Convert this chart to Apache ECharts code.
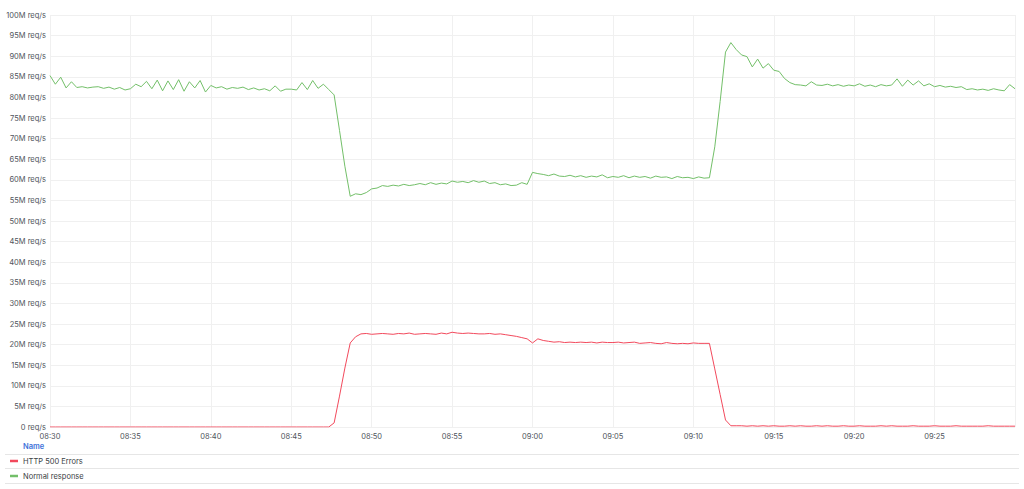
<!DOCTYPE html>
<html>
<head>
<meta charset="utf-8">
<script src="https://cdn.jsdelivr.net/npm/echarts@6/dist/echarts.min.js"></script>
<style>
  html, body { margin: 0; padding: 0; background: #fff; }
  #chart { width: 1024px; height: 489px; }
</style>
</head>
<body>
<div id="chart"></div>
<script>
(function() {
  'use strict';

  // ========== Data ==========
  // samples every 20 s from 08:30:00 to 09:30:00, values in M req/s
  var startHour = 8;
  var startMinute = 30;
  var spanMinutes = 60;
  var stepMinutes = 20 / 60;
  var seriesNames = ['HTTP 500 Errors', 'Normal response'];
  var seriesColors = ['#f2495c', '#73bf69'];

  var errors500 = [
    0, 0, 0,  0, 0, 0,  0, 0, 0,  0, 0, 0,  0, 0, 0,            // 08:30-08:34
    0, 0, 0,  0, 0, 0,  0, 0, 0,  0, 0, 0,  0, 0, 0,            // 08:35-08:39
    0, 0, 0,  0, 0, 0,  0, 0, 0,  0, 0, 0,  0, 0, 0,            // 08:40-08:44
    0, 0, 0,  0, 0, 0,  0, 0, 1.0,  7.5, 14.3, 20.4,  21.9, 22.6, 22.7,   // 08:45-08:49
    22.5, 22.6, 22.7,  22.6, 22.5, 22.7,  22.6, 22.8, 22.5,  22.6, 22.7, 22.6,  22.5, 22.8, 22.6,  // 08:50-08:54
    23.0, 22.8, 22.7,  22.8, 22.7, 22.6,  22.6, 22.7, 22.5,  22.6, 22.4, 22.2,  22.0, 21.7, 21.4,  // 08:55-08:59
    20.4, 21.4, 21.0,  20.8, 20.6, 20.7,  20.5, 20.6, 20.5,  20.6, 20.5, 20.6,  20.4, 20.6, 20.5,  // 09:00-09:04
    20.5, 20.6, 20.4,  20.5, 20.6, 20.3,  20.4, 20.5, 20.3,  20.2, 20.5, 20.3,  20.2, 20.3, 20.2,  // 09:05-09:09
    20.4, 20.3, 20.3,  20.3, 14.1, 7.9,  1.7, 0.3, 0.3,  0.3, 0.2, 0.3,  0.2, 0.3, 0.2,          // 09:10-09:14
    0.3, 0.2, 0.2,  0.3, 0.2, 0.3,  0.2, 0.2, 0.3,  0.2, 0.3, 0.2,  0.2, 0.3, 0.2,               // 09:15-09:19
    0.2, 0.3, 0.2,  0.2, 0.2, 0.3,  0.2, 0.3, 0.2,  0.2, 0.2, 0.3,  0.2, 0.2, 0.2,               // 09:20-09:24
    0.3, 0.2, 0.2,  0.2, 0.3, 0.2,  0.2, 0.2, 0.2,  0.2, 0.3, 0.2,  0.2, 0.2, 0.2,               // 09:25-09:29
    0.2                                                                                           // 09:30
  ];

  var normalResponse = [
    85.3, 83.2, 84.9,  82.3, 83.8, 82.4,  82.6, 82.3, 82.5,  82.6, 82.2, 82.5,  82.0, 82.4, 81.8,  // 08:30-08:34
    82.1, 83.2, 82.6,  83.9, 82.1, 84.2,  81.6, 84.0, 81.9,  84.3, 81.5, 83.8,  82.3, 84.1, 81.3,  // 08:35-08:39
    82.9, 82.3, 82.6,  82.0, 82.4, 82.2,  82.5, 81.9, 82.3,  81.8, 82.1, 81.6,  82.8, 81.5, 82.0,  // 08:40-08:44
    82.0, 81.8, 83.6,  81.9, 84.1, 82.2,  83.2, 81.9, 80.6,  72.0, 63.3, 56.0,  56.6, 56.4, 56.9,  // 08:45-08:49
    57.8, 58.0, 58.6,  58.4, 58.7, 58.5,  58.9, 58.6, 58.8,  59.1, 58.8, 59.3,  58.9, 59.2, 59.0,  // 08:50-08:54
    59.7, 59.4, 59.6,  59.3, 59.8, 59.4,  59.7, 59.1, 59.3,  58.8, 59.0, 58.6,  58.7, 59.3, 58.9,  // 08:55-08:59
    61.8, 61.5, 61.3,  61.0, 61.4, 60.9,  60.8, 61.1, 60.7,  61.0, 60.6, 60.9,  60.7, 61.2, 60.5,  // 09:00-09:04
    60.8, 60.6, 61.0,  60.5, 60.9, 60.6,  60.8, 60.4, 60.9,  60.6, 60.7, 60.3,  60.8, 60.5, 60.6,  // 09:05-09:09
    60.3, 60.7, 60.4,  60.5, 68.0, 79.0,  91.0, 93.3, 91.6,  90.3, 89.9, 87.4,  89.3, 87.1, 88.2,  // 09:10-09:14
    86.6, 86.3, 84.6,  83.6, 83.1, 83.0,  82.8, 83.8, 83.0,  82.9, 83.2, 82.8,  83.1, 82.7, 83.0,  // 09:15-09:19
    82.8, 83.3, 82.7,  83.0, 82.6, 83.1,  82.8, 83.0, 84.5,  82.7, 84.2, 83.0,  84.0, 82.8, 83.3,  // 09:20-09:24
    82.6, 82.9, 82.5,  82.7, 82.4, 82.6,  81.9, 82.1, 81.8,  82.0, 81.7, 82.1,  81.8, 81.6, 83.1,  // 09:25-09:29
    82.1                                                                                            // 09:30
  ];

  var seriesValues = [errors500, normalResponse];

  // ========== Chart ==========
  var ink = '#50555c';
  var rule = '#f0f0f0';
  var font = 'Inter, "Noto Sans", sans-serif';

  function pad(n) { return (n < 10 ? '0' : '') + n; }
  function clockLabel(m) {
    var total = startHour * 60 + startMinute + Math.round(m);
    return pad(Math.floor(total / 60)) + ':' + pad(total % 60);
  }
  function toPairs(values) {
    return values.map(function(v, i) { return [i * stepMinutes, v]; });
  }

  var chart = echarts.init(document.getElementById('chart'), null, { renderer: 'svg' });
  chart.setOption({
    animation: false,
    textStyle: { fontFamily: font },
    grid: { left: 50, right: 9, top: 15, bottom: 62, containLabel: false, outerBoundsMode: 'none' },
    xAxis: {
      type: 'value',
      min: 0,
      max: spanMinutes,
      interval: 5,
      axisLine: { show: false },
      axisTick: { show: false },
      axisLabel: {
        color: ink,
        fontSize: 7.5,
        margin: 5,
        showMaxLabel: false,
        formatter: clockLabel
      },
      splitLine: { show: true, lineStyle: { color: rule, width: 1 } }
    },
    yAxis: {
      type: 'value',
      min: 0,
      max: 100,
      interval: 5,
      axisLine: { show: false },
      axisTick: { show: false },
      axisLabel: {
        color: ink,
        fontSize: 7.5,
        margin: 4,
        formatter: function(v) { return v === 0 ? '0 req/s' : v + 'M req/s'; }
      },
      splitLine: { lineStyle: { color: rule, width: 1 } }
    },
    legend: {
      orient: 'vertical',
      left: 10,
      top: 456,
      padding: 0,
      icon: 'rect',
      itemWidth: 8,
      itemHeight: 2.5,
      itemGap: 5,
      textStyle: { color: '#3a3e44', fontSize: 7.5, lineHeight: 10 },
      data: seriesNames
    },
    graphic: [
      { type: 'text', left: 23, top: 442, style: { text: 'Name', fill: '#3d71d9', fontSize: 7.5, fontWeight: 600, fontFamily: font } },
      { type: 'line', shape: { x1: 5, y1: 454.5, x2: 1019, y2: 454.5 }, style: { stroke: '#e6e6e6', lineWidth: 1 } },
      { type: 'line', shape: { x1: 5, y1: 468.5, x2: 1019, y2: 468.5 }, style: { stroke: '#e6e6e6', lineWidth: 1 } },
      { type: 'line', shape: { x1: 5, y1: 483.5, x2: 1019, y2: 483.5 }, style: { stroke: '#e6e6e6', lineWidth: 1 } }
    ],
    series: seriesNames.map(function(name, i) {
      return {
        name: name,
        type: 'line',
        data: toPairs(seriesValues[i]),
        showSymbol: false,
        symbol: 'none',
        lineStyle: { color: seriesColors[i], width: 1 },
        itemStyle: { color: seriesColors[i] }
      };
    })
  });
  window.addEventListener('resize', function() { chart.resize(); });
})();
</script>
</body>
</html>
